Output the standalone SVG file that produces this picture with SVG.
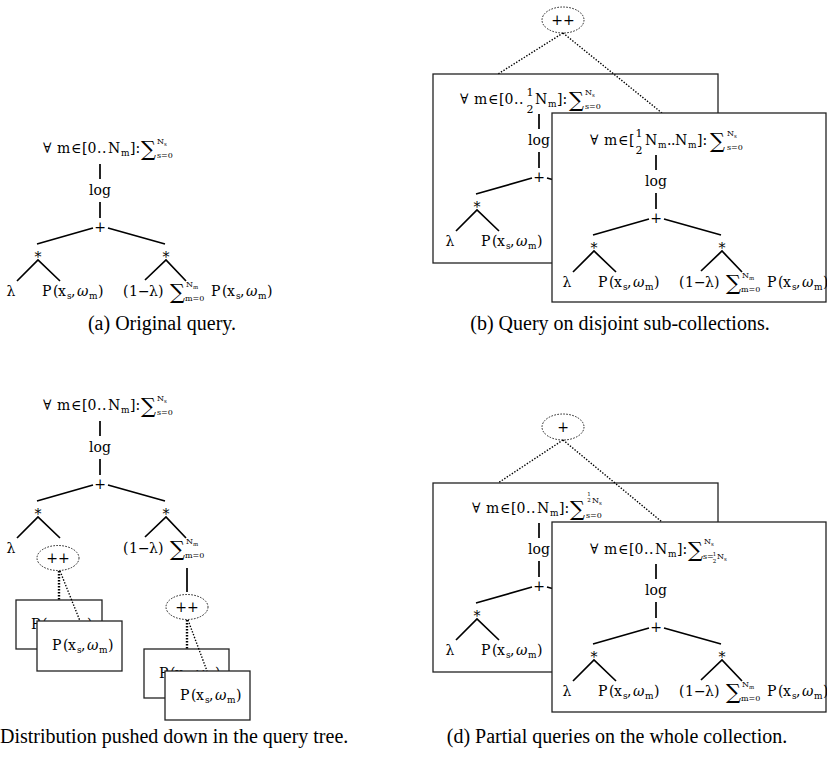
<svg xmlns="http://www.w3.org/2000/svg" width="827" height="761" viewBox="0 0 827 761">
<style>
.m{font-family:"DejaVu Serif",serif;font-size:14px;fill:#000}
.c{text-anchor:middle}
.s1{font-size:9px}
.s2{font-size:8px}
.s3{font-size:5.5px}
.fr{font-size:11px}
.fr2{font-size:5.5px}
.sg{font-size:21px}
.w{font-style:italic}
.cap{font-family:"Liberation Serif","Times New Roman",serif;font-size:20px;fill:#000}
.e{fill:none;stroke:#000;stroke-width:1.7}
.dl{fill:none;stroke:#000;stroke-width:1.4;stroke-dasharray:1.4 1.6}
.dv{fill:none;stroke:#000;stroke-width:2.4;stroke-dasharray:1.6 1.4}
.ov{fill:none;stroke:#222;stroke-width:1;stroke-dasharray:1.6 1.4}
.bx{fill:#fff;stroke:#222;stroke-width:1.3}
</style>

<!-- ===================== (a) ===================== -->
<g id="fig-a">
<g id="tree-a" transform="translate(100,195)">
 <g id="connectors-a"><path class="e" d="M0,-31V-16M0,7V23M-7,33L-63,49M8,33L65,49M-83,86L-62,65L-40,86M45,85L66,65L86,86"/></g>
 <g id="a-root">
  <text class="m"><tspan x="-57" y="-42">∀</tspan><tspan x="-43">m</tspan><tspan x="-29">∈</tspan><tspan x="-18">[0</tspan><tspan x="-3">.</tspan><tspan x="2">.</tspan><tspan x="8">N</tspan><tspan class="s1" x="21" y="-39">m</tspan><tspan x="30" y="-42">]:</tspan></text>
  <text class="m sg" x="41" y="-39">∑</text>
  <text class="m s2" x="57" y="-51">N<tspan class="s3" dy="1.5">s</tspan></text>
  <text class="m s2" x="57" y="-37">s=0</text>
 </g>
 <g id="a-log"><text class="m c" x="0" y="0">log</text></g>
 <g id="a-plus"><text class="m c" x="0" y="37">+</text></g>
 <g id="a-mul1"><text class="m c" x="-62" y="67">*</text></g>
 <g id="a-mul2"><text class="m c" x="66" y="67">*</text></g>
 <g id="a-lambda"><text class="m c" x="-89" y="101">λ</text></g>
 <g id="a-p"><text class="m"><tspan x="-58" y="101">P</tspan><tspan x="-47">(</tspan><tspan x="-42">x</tspan><tspan class="s1" x="-33" y="104">s</tspan><tspan x="-29" y="101">,</tspan><tspan class="w" x="-23">ω</tspan><tspan class="s1" x="-11" y="104">m</tspan><tspan x="-2" y="101">)</tspan></text></g>
 <g id="a-oneminus"><text class="m"><tspan x="23" y="101">(</tspan><tspan x="29">1</tspan><tspan x="38">−</tspan><tspan x="49">λ</tspan><tspan x="58">)</tspan></text></g>
 <g id="a-sum">
  <text class="m sg" x="70" y="104">∑</text>
  <text class="m s2" x="86" y="92">N<tspan class="s3" dy="1.5">m</tspan></text>
  <text class="m s2" x="85" y="106">m=0</text>
  <text class="m"><tspan x="111" y="101">P</tspan><tspan x="122">(</tspan><tspan x="127">x</tspan><tspan class="s1" x="136" y="104">s</tspan><tspan x="140" y="101">,</tspan><tspan class="w" x="146">ω</tspan><tspan class="s1" x="158" y="104">m</tspan><tspan x="167" y="101">)</tspan></text>
 </g>
</g>
</g>

<!-- ===================== (b) ===================== -->
<g id="fig-b">
 <g id="b-concat"><ellipse class="ov" cx="563" cy="20" rx="21" ry="13"/><text class="m c" x="563" y="25">++</text></g>
 <g id="b-box1"><rect class="bx" x="433" y="74" width="285" height="189"/></g>
 <g id="tree-b1" transform="translate(539,145)">
  <g id="connectors-b1"><path class="e" d="M0,-31V-16M0,7V23M-7,33L-63,49M8,33L65,49M-83,86L-62,65L-40,86"/></g>
  <g id="b1-root">
   <text class="m"><tspan x="-79" y="-41">∀</tspan><tspan x="-65">m</tspan><tspan x="-51">∈</tspan><tspan x="-40">[0</tspan><tspan x="-25">.</tspan><tspan x="-20">.</tspan><tspan x="-4">N</tspan><tspan class="s1" x="9" y="-38">m</tspan><tspan x="18" y="-41">]:</tspan></text>
   <text class="m fr c" x="-9" y="-49">1</text>
   <text class="m fr c" x="-9" y="-32">2</text>
   <text class="m sg" x="30" y="-38">∑</text>
   <text class="m s2" x="46" y="-50">N<tspan class="s3" dy="1.5">s</tspan></text>
   <text class="m s2" x="46" y="-36">s=0</text>
  </g>
  <g id="b1-log"><text class="m c" x="0" y="0">log</text></g>
  <g id="b1-plus"><text class="m c" x="0" y="37">+</text></g>
  <g id="b1-mul1"><text class="m c" x="-62" y="67">*</text></g>
  <g id="b1-lambda"><text class="m c" x="-89" y="101">λ</text></g>
  <g id="b1-p"><text class="m"><tspan x="-58" y="101">P</tspan><tspan x="-47">(</tspan><tspan x="-42">x</tspan><tspan class="s1" x="-33" y="104">s</tspan><tspan x="-29" y="101">,</tspan><tspan class="w" x="-23">ω</tspan><tspan class="s1" x="-11" y="104">m</tspan><tspan x="-2" y="101">)</tspan></text></g>
 </g>
 <g id="connectors-b"><path class="dl" d="M563,33L498,74M563,33L662,113"/></g>
 <g id="b-box2"><rect class="bx" x="552" y="113" width="274" height="189"/></g>
 <g id="tree-b2" transform="translate(656,186)">
  <g id="connectors-b2"><path class="e" d="M0,-31V-16M0,7V23M-7,33L-63,49M8,33L65,49M-83,86L-62,65L-40,86M45,85L66,65L86,86"/></g>
  <g id="b2-root">
   <text class="m"><tspan x="-66" y="-41">∀</tspan><tspan x="-52">m</tspan><tspan x="-38">∈</tspan><tspan x="-27">[</tspan><tspan x="-11">N</tspan><tspan class="s1" x="2" y="-38">m</tspan><tspan x="11" y="-41">.</tspan><tspan x="15">.</tspan><tspan x="19">N</tspan><tspan class="s1" x="32" y="-38">m</tspan><tspan x="41" y="-41">]:</tspan></text>
   <text class="m fr c" x="-17" y="-49">1</text>
   <text class="m fr c" x="-17" y="-32">2</text>
   <text class="m sg" x="54" y="-38">∑</text>
   <text class="m s2" x="71" y="-50">N<tspan class="s3" dy="1.5">s</tspan></text>
   <text class="m s2" x="71" y="-36">s=0</text>
  </g>
  <g id="b2-log"><text class="m c" x="0" y="0">log</text></g>
  <g id="b2-plus"><text class="m c" x="0" y="37">+</text></g>
  <g id="b2-mul1"><text class="m c" x="-62" y="67">*</text></g>
  <g id="b2-mul2"><text class="m c" x="66" y="67">*</text></g>
  <g id="b2-lambda"><text class="m c" x="-89" y="101">λ</text></g>
  <g id="b2-p"><text class="m"><tspan x="-58" y="101">P</tspan><tspan x="-47">(</tspan><tspan x="-42">x</tspan><tspan class="s1" x="-33" y="104">s</tspan><tspan x="-29" y="101">,</tspan><tspan class="w" x="-23">ω</tspan><tspan class="s1" x="-11" y="104">m</tspan><tspan x="-2" y="101">)</tspan></text></g>
  <g id="b2-oneminus"><text class="m"><tspan x="23" y="101">(</tspan><tspan x="29">1</tspan><tspan x="38">−</tspan><tspan x="49">λ</tspan><tspan x="58">)</tspan></text></g>
  <g id="b2-sum">
   <text class="m sg" x="70" y="104">∑</text>
   <text class="m s2" x="86" y="92">N<tspan class="s3" dy="1.5">m</tspan></text>
   <text class="m s2" x="85" y="106">m=0</text>
   <text class="m"><tspan x="111" y="101">P</tspan><tspan x="122">(</tspan><tspan x="127">x</tspan><tspan class="s1" x="136" y="104">s</tspan><tspan x="140" y="101">,</tspan><tspan class="w" x="146">ω</tspan><tspan class="s1" x="158" y="104">m</tspan><tspan x="167" y="101">)</tspan></text>
  </g>
 </g>
</g>

<!-- ===================== (c) ===================== -->
<g id="fig-c">
<g id="tree-c" transform="translate(100,452)">
 <g id="connectors-c"><path class="e" d="M0,-31V-16M0,7V23M-7,33L-63,49M8,33L65,49M-83,86L-62,65L-40,86M45,85L66,65L86,86M87,116V140"/></g>
 <g id="c-root">
  <text class="m"><tspan x="-57" y="-42">∀</tspan><tspan x="-43">m</tspan><tspan x="-29">∈</tspan><tspan x="-18">[0</tspan><tspan x="-3">.</tspan><tspan x="2">.</tspan><tspan x="8">N</tspan><tspan class="s1" x="21" y="-39">m</tspan><tspan x="30" y="-42">]:</tspan></text>
  <text class="m sg" x="41" y="-39">∑</text>
  <text class="m s2" x="57" y="-51">N<tspan class="s3" dy="1.5">s</tspan></text>
  <text class="m s2" x="57" y="-37">s=0</text>
 </g>
 <g id="c-log"><text class="m c" x="0" y="0">log</text></g>
 <g id="c-plus"><text class="m c" x="0" y="37">+</text></g>
 <g id="c-mul1"><text class="m c" x="-62" y="67">*</text></g>
 <g id="c-mul2"><text class="m c" x="66" y="67">*</text></g>
 <g id="c-lambda"><text class="m c" x="-89" y="101">λ</text></g>
 <g id="c-oneminus"><text class="m"><tspan x="23" y="101">(</tspan><tspan x="29">1</tspan><tspan x="38">−</tspan><tspan x="49">λ</tspan><tspan x="58">)</tspan></text></g>
 <g id="c-sum">
  <text class="m sg" x="70" y="104">∑</text>
  <text class="m s2" x="86" y="92">N<tspan class="s3" dy="1.5">m</tspan></text>
  <text class="m s2" x="85" y="106">m=0</text>
 </g>
 <g id="c-concat1"><ellipse class="ov" cx="-42" cy="106" rx="21" ry="12.5"/><text class="m c" x="-42" y="111">++</text></g>
 <g id="c-concat2"><ellipse class="ov" cx="87" cy="155" rx="21" ry="12.5"/><text class="m c" x="87" y="160">++</text></g>
</g>
<g id="c-boxA"><rect class="bx" x="16" y="600" width="86" height="49"/>
 <text class="m"><tspan x="31" y="629">P</tspan><tspan x="42">(</tspan><tspan x="47">x</tspan><tspan class="s1" x="56" y="632">s</tspan><tspan x="60" y="629">,</tspan><tspan class="w" x="66">ω</tspan><tspan class="s1" x="78" y="632">m</tspan><tspan x="87" y="629">)</tspan></text></g>
<g id="c-boxB"><rect class="bx" x="37" y="621" width="85" height="50"/>
 <text class="m"><tspan x="52" y="650">P</tspan><tspan x="63">(</tspan><tspan x="68">x</tspan><tspan class="s1" x="77" y="653">s</tspan><tspan x="81" y="650">,</tspan><tspan class="w" x="87">ω</tspan><tspan class="s1" x="99" y="653">m</tspan><tspan x="108" y="650">)</tspan></text></g>
<g id="c-boxC"><rect class="bx" x="144" y="649" width="85" height="49"/>
 <text class="m"><tspan x="159" y="678">P</tspan><tspan x="170">(</tspan><tspan x="175">x</tspan><tspan class="s1" x="184" y="681">s</tspan><tspan x="188" y="678">,</tspan><tspan class="w" x="194">ω</tspan><tspan class="s1" x="206" y="681">m</tspan><tspan x="215" y="678">)</tspan></text></g>
<g id="c-boxD"><rect class="bx" x="165" y="671" width="85" height="49"/>
 <text class="m"><tspan x="180" y="700">P</tspan><tspan x="191">(</tspan><tspan x="196">x</tspan><tspan class="s1" x="205" y="703">s</tspan><tspan x="209" y="700">,</tspan><tspan class="w" x="215">ω</tspan><tspan class="s1" x="227" y="703">m</tspan><tspan x="236" y="700">)</tspan></text></g>
<g id="connectors-c-dist">
 <path class="dv" d="M59,571V600M187,620V649"/>
 <path class="dl" d="M60,571L80,621M188,620L207,671"/>
</g>
</g>

<!-- ===================== (d) ===================== -->
<g id="fig-d">
 <g id="d-sum-node"><ellipse class="ov" cx="563" cy="427" rx="21" ry="13"/><text class="m c" x="563" y="432">+</text></g>
 <g id="d-box1"><rect class="bx" x="433" y="483" width="285" height="189"/></g>
 <g id="tree-d1" transform="translate(539,554)">
  <g id="connectors-d1"><path class="e" d="M0,-31V-16M0,7V23M-7,33L-63,49M8,33L65,49M-83,86L-62,65L-40,86"/></g>
  <g id="d1-root">
   <text class="m"><tspan x="-67" y="-41">∀</tspan><tspan x="-53">m</tspan><tspan x="-39">∈</tspan><tspan x="-28">[0</tspan><tspan x="-13">.</tspan><tspan x="-8">.</tspan><tspan x="-2">N</tspan><tspan class="s1" x="11" y="-38">m</tspan><tspan x="20" y="-41">]:</tspan></text>
   <text class="m sg" x="31" y="-38">∑</text>
   <text class="m fr2 c" x="50" y="-58">1</text>
   <text class="m fr2 c" x="50" y="-52">2</text>
   <text class="m s2" x="53" y="-51">N<tspan class="s3" dy="1.5">s</tspan></text>
   <text class="m s2" x="47" y="-36">s=0</text>
  </g>
  <g id="d1-log"><text class="m c" x="0" y="0">log</text></g>
  <g id="d1-plus"><text class="m c" x="0" y="37">+</text></g>
  <g id="d1-mul1"><text class="m c" x="-62" y="67">*</text></g>
  <g id="d1-lambda"><text class="m c" x="-89" y="101">λ</text></g>
  <g id="d1-p"><text class="m"><tspan x="-58" y="101">P</tspan><tspan x="-47">(</tspan><tspan x="-42">x</tspan><tspan class="s1" x="-33" y="104">s</tspan><tspan x="-29" y="101">,</tspan><tspan class="w" x="-23">ω</tspan><tspan class="s1" x="-11" y="104">m</tspan><tspan x="-2" y="101">)</tspan></text></g>
 </g>
 <g id="connectors-d"><path class="dl" d="M563,440L498,483M563,440L662,522"/></g>
 <g id="d-box2"><rect class="bx" x="552" y="522" width="274" height="190"/></g>
 <g id="tree-d2" transform="translate(656,595)">
  <g id="connectors-d2"><path class="e" d="M0,-31V-16M0,7V23M-7,33L-63,49M8,33L65,49M-83,86L-62,65L-40,86M45,85L66,65L86,86"/></g>
  <g id="d2-root">
   <text class="m"><tspan x="-66" y="-41">∀</tspan><tspan x="-52">m</tspan><tspan x="-38">∈</tspan><tspan x="-27">[0</tspan><tspan x="-12">.</tspan><tspan x="-7">.</tspan><tspan x="-1">N</tspan><tspan class="s1" x="12" y="-38">m</tspan><tspan x="21" y="-41">]:</tspan></text>
   <text class="m sg" x="32" y="-38">∑</text>
   <text class="m s2" x="48" y="-51">N<tspan class="s3" dy="1.5">s</tspan></text>
   <text class="m s2" x="47" y="-36">s=</text>
   <text class="m fr2 c" x="58.5" y="-39">1</text>
   <text class="m fr2 c" x="58.5" y="-32">2</text>
   <text class="m s2" x="61" y="-36">N<tspan class="s3" dy="1.5">s</tspan></text>
  </g>
  <g id="d2-log"><text class="m c" x="0" y="0">log</text></g>
  <g id="d2-plus"><text class="m c" x="0" y="37">+</text></g>
  <g id="d2-mul1"><text class="m c" x="-62" y="67">*</text></g>
  <g id="d2-mul2"><text class="m c" x="66" y="67">*</text></g>
  <g id="d2-lambda"><text class="m c" x="-89" y="101">λ</text></g>
  <g id="d2-p"><text class="m"><tspan x="-58" y="101">P</tspan><tspan x="-47">(</tspan><tspan x="-42">x</tspan><tspan class="s1" x="-33" y="104">s</tspan><tspan x="-29" y="101">,</tspan><tspan class="w" x="-23">ω</tspan><tspan class="s1" x="-11" y="104">m</tspan><tspan x="-2" y="101">)</tspan></text></g>
  <g id="d2-oneminus"><text class="m"><tspan x="23" y="101">(</tspan><tspan x="29">1</tspan><tspan x="38">−</tspan><tspan x="49">λ</tspan><tspan x="58">)</tspan></text></g>
  <g id="d2-sum">
   <text class="m sg" x="70" y="104">∑</text>
   <text class="m s2" x="86" y="92">N<tspan class="s3" dy="1.5">m</tspan></text>
   <text class="m s2" x="85" y="106">m=0</text>
   <text class="m"><tspan x="111" y="101">P</tspan><tspan x="122">(</tspan><tspan x="127">x</tspan><tspan class="s1" x="136" y="104">s</tspan><tspan x="140" y="101">,</tspan><tspan class="w" x="146">ω</tspan><tspan class="s1" x="158" y="104">m</tspan><tspan x="167" y="101">)</tspan></text>
  </g>
 </g>
</g>

<!-- ===================== captions ===================== -->
<g id="captions">
 <text class="cap c" x="162" y="330">(a) Original query.</text>
 <text class="cap c" x="620" y="330">(b) Query on disjoint sub-collections.</text>
 <text class="cap" x="0" y="743">Distribution pushed down in the query tree.</text>
 <text class="cap c" x="617" y="743">(d) Partial queries on the whole collection.</text>
</g>
</svg>
